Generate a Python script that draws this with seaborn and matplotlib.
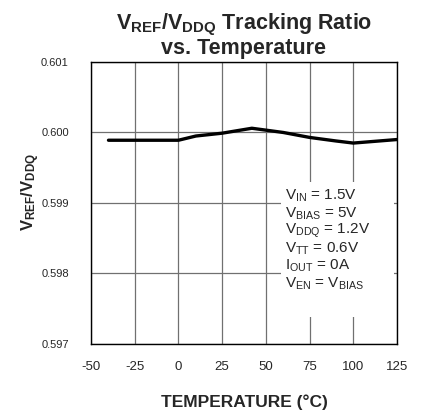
import matplotlib
matplotlib.use("Agg")
import matplotlib.pyplot as plt
import seaborn as sns
import pandas as pd

temperatura = [-40, -25, 0, 5, 10, 25, 42, 60, 75, 90, 100, 110, 125]
ratio = [0.59989, 0.59989, 0.59989, 0.59992, 0.59995, 0.59999, 0.60006,
         0.60000, 0.59993, 0.59988, 0.59985, 0.59987, 0.59990]

xticks = [-50, -25, 0, 25, 50, 75, 100, 125]
yticks = [0.597, 0.598, 0.599, 0.600, 0.601]

condiciones = [
    r"V$_{\mathrm{IN}}$ = 1.5V",
    r"V$_{\mathrm{BIAS}}$ = 5V",
    r"V$_{\mathrm{DDQ}}$ = 1.2V",
    r"V$_{\mathrm{TT}}$ = 0.6V",
    r"I$_{\mathrm{OUT}}$ = 0A",
    r"V$_{\mathrm{EN}}$ = V$_{\mathrm{BIAS}}$",
]

sns.set_style("white")
plt.rcParams["font.family"] = ["Liberation Sans", "DejaVu Sans"]
plt.rcParams["mathtext.fontset"] = "custom"
plt.rcParams["mathtext.rm"] = "Liberation Sans"
plt.rcParams["mathtext.bf"] = "Liberation Sans:bold"
plt.rcParams["mathtext.it"] = "Liberation Sans:italic"
plt.rcParams["axes.unicode_minus"] = False

df = pd.DataFrame({"temp": temperatura, "ratio": ratio})

fig = plt.figure(figsize=(4.24, 4.16), dpi=100)
ax = fig.add_axes([0.2146, 0.1731, 0.7217, 0.6779])

sns.lineplot(data=df, x="temp", y="ratio", ax=ax, color="black", linewidth=2.4, zorder=3)

ax.set_xlim(-50, 125)
ax.set_ylim(0.597, 0.601)
ax.set_xticks(xticks)
ax.set_yticks(yticks)
ax.set_yticklabels([f"{v:.3f}" for v in yticks])
ax.grid(True, color="#707070", linewidth=0.9)
ax.tick_params(axis="both", length=0)
ax.tick_params(axis="x", labelsize=9.5, pad=12)
ax.tick_params(axis="y", labelsize=8, pad=16)
for s in ax.spines.values():
    s.set_color("black")
    s.set_linewidth(1.0)

ax.set_xlabel("TEMPERATURE (°C)", fontsize=12.5, fontweight="bold")
ax.xaxis.set_label_coords(0.5, -0.18)
ax.set_ylabel(r"V$_{\mathbf{REF}}$/V$_{\mathbf{DDQ}}$", fontsize=12, fontweight="bold")
ax.yaxis.set_label_coords(-0.16, 0.54)
ax.set_title(r"V$_{\mathbf{REF}}$/V$_{\mathbf{DDQ}}$ Tracking Ratio" + "\nvs. Temperature",
             fontsize=15.5, fontweight="bold", pad=6, linespacing=1.0)

# white panel behind the test conditions
ax.add_patch(plt.Rectangle((0.62, 0.095), 0.37, 0.48, transform=ax.transAxes,
                           facecolor="white", edgecolor="none", zorder=2))
for i, txt in enumerate(condiciones):
    ax.text(0.633, 0.524 - i * 0.062, txt, transform=ax.transAxes, fontsize=11,
            va="center", ha="left", zorder=4)

fig.savefig("out.png", dpi=100)
